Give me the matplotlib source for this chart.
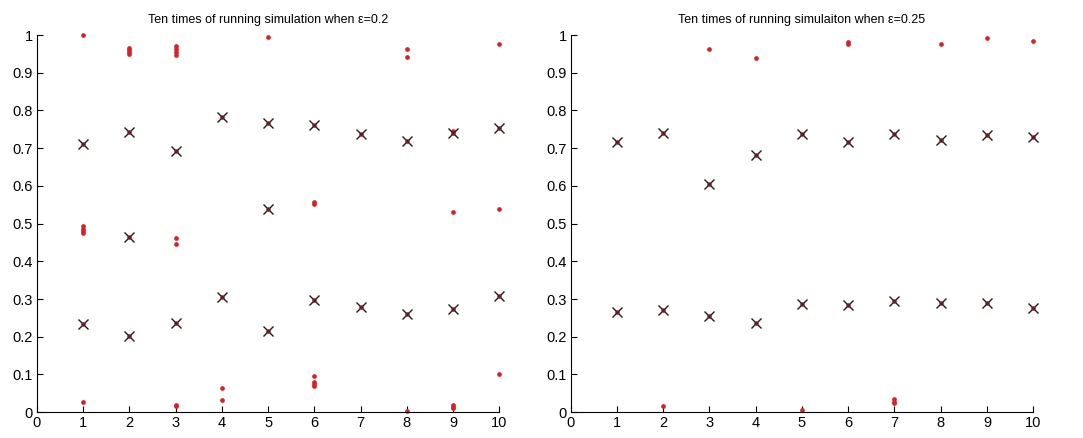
import numpy as np
import matplotlib.pyplot as plt

plt.rcParams['font.family'] = ['Liberation Sans', 'DejaVu Sans']

runs = list(range(1, 11))

# eps = 0.2 : scattered points per run and the cluster centres (x marks)
pts_02 = [
    [1.0, 0.493, 0.487, 0.481, 0.476, 0.026],
    [0.965, 0.960, 0.955, 0.950],
    [0.972, 0.962, 0.955, 0.948, 0.462, 0.445, 0.020, 0.017],
    [0.064, 0.032],
    [0.996],
    [0.557, 0.553, 0.096, 0.080, 0.074, 0.070],
    [],
    [0.962, 0.943, 0.003],
    [0.745, 0.530, 0.019, 0.014, 0.010],
    [0.977, 0.538, 0.100],
]
ctr_02 = [
    [0.710, 0.233],
    [0.743, 0.465, 0.202],
    [0.692, 0.236],
    [0.783, 0.306],
    [0.768, 0.538, 0.216],
    [0.762, 0.297],
    [0.737, 0.280],
    [0.720, 0.260],
    [0.740, 0.273],
    [0.754, 0.308],
]

# eps = 0.25
pts_025 = [
    [],
    [0.017],
    [0.963],
    [0.939],
    [0.005],
    [0.982, 0.977],
    [0.034, 0.027, 0.023],
    [0.977],
    [0.992],
    [0.985],
]
ctr_025 = [
    [0.717, 0.266],
    [0.741, 0.271],
    [0.606, 0.254],
    [0.682, 0.236],
    [0.737, 0.287],
    [0.717, 0.284],
    [0.737, 0.295],
    [0.723, 0.290],
    [0.734, 0.290],
    [0.729, 0.277],
]

titles = ['Ten times of running simulation when \u03b5=0.2',
          'Ten times of running simulaiton when \u03b5=0.25']


def flatten(groups):
    xs, ys = [], []
    for r, vals in zip(runs, groups):
        xs += [r] * len(vals)
        ys += vals
    return xs, ys


def draw(ax, pts, ctr, title):
    px, py = flatten(pts)
    cx, cy = flatten(ctr)
    ax.plot(px, py, 'o', color='#d8222a', ms=3.4, mec='none', clip_on=False)
    ax.plot(cx, cy, 'x', color='#2a1a1a', ms=7.5, mew=1.0, clip_on=False)
    ax.plot(cx, cy, 'o', color='#6a1c22', ms=3.2, mec='none', clip_on=False)
    ax.set_xlim(0, 10)
    ax.set_ylim(0, 1)
    ax.set_xticks(range(0, 11))
    ax.set_yticks(np.arange(0, 1.01, 0.1))
    ax.set_yticklabels(['0', '0.1', '0.2', '0.3', '0.4', '0.5', '0.6',
                        '0.7', '0.8', '0.9', '1'])
    ax.spines['top'].set_visible(False)
    ax.spines['right'].set_visible(False)
    ax.tick_params(direction='in', length=4, labelsize=10.5, pad=3)
    ax.set_title(title, fontsize=9, pad=9)


fig = plt.figure(figsize=(10.83, 4.38), dpi=100)
ax1 = fig.add_axes([0.034, 0.059, 0.427, 0.861])
ax2 = fig.add_axes([0.527, 0.059, 0.427, 0.861])
draw(ax1, pts_02, ctr_02, titles[0])
draw(ax2, pts_025, ctr_025, titles[1])

fig.savefig('out.png', dpi=100)
